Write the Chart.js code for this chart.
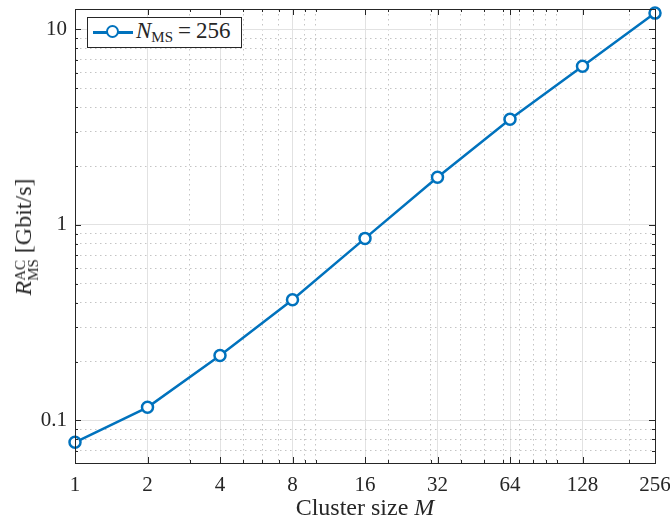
<!DOCTYPE html>
<html>
<head>
<meta charset="utf-8">
<script src="https://cdn.jsdelivr.net/npm/chart.js@4"></script>
<style>
  html, body { margin: 0; padding: 0; background: #fff; }
  #wrap { position: relative; width: 670px; height: 522px; font-family: "Liberation Serif", serif; color: #262626; }
  #chart { position: absolute; left: 0; top: 0; }
  .legend { position: absolute; left: 87px; top: 17px; width: 153px; height: 29px; border: 1px solid #262626; background: #fff; }
  .legend .ln { position: absolute; left: 5px; top: 13px; width: 40px; height: 2.5px; background: #0072bd; }
  .legend .mk { position: absolute; left: 18px; top: 7px; width: 9px; height: 9px; border: 2.5px solid #0072bd; border-radius: 50%; background: #fff; }
  .legend .tx { position: absolute; left: 48px; top: 0px; font-size: 23px; white-space: nowrap; }
  .legend .eq { margin: 0 5px; }
  sub { font-size: 15px; vertical-align: -4px; }
  .xlabel { position: absolute; left: 0; width: 730px; top: 494px; text-align: center; font-size: 24px; }
  .ylabel { position: absolute; left: 25px; top: 237px; transform: translate(-50%, -50%) rotate(-90deg); font-size: 24px; white-space: nowrap; }
  .stack { display: inline-block; vertical-align: -7px; line-height: 13px; font-size: 15px; text-align: left; margin-right: 6px; }
</style>
</head>
<body>
<div id="wrap">
  <canvas id="chart" width="670" height="522"></canvas>
  <div class="legend">
    <span class="ln"></span><span class="mk"></span>
    <span class="tx"><i>N</i><sub>MS</sub><span class="eq">=</span>256</span>
  </div>
  <div class="xlabel">Cluster size <i>M</i></div>
  <div class="ylabel"><i>R</i><span class="stack">AC<br>MS</span>[Gbit/s]</div>
</div>
<script>
// cluster size M and achievable rate (Gbit/s), N_MS = 256
const clusterSizes = [1, 2, 4, 8, 16, 32, 64, 128, 256];
const rateGbps = [0.0773, 0.1167, 0.2146, 0.414, 0.853, 1.753, 3.47, 6.47, 12.1];

const xTicks = [1, 2, 4, 8, 16, 32, 64, 128, 256];
const xMinor = [3, 5, 6, 7, 9, 10, 20, 30, 40, 50, 60, 70, 80, 90, 100, 200];
const yTicks = [0.1, 1, 10];
const yTickLabels = ['0.1', '1', '10'];
const yMinor = [0.07, 0.08, 0.09, 0.2, 0.3, 0.4, 0.5, 0.6, 0.7, 0.8, 0.9, 2, 3, 4, 5, 6, 7, 8, 9];

const xMin = 1, xMax = 256, yMin = 0.0606, yMax = 12.7;

const axisColor = '#262626';
const tickFont = { family: 'Liberation Serif', size: 21 };

// label overflow padding would shrink the plot area, drop it
function noPad(s) {
  s.paddingLeft = 0; s.paddingRight = 0; s.paddingTop = 0; s.paddingBottom = 0;
}

// box around the axes with inward ticks on all sides
const boxPlugin = {
  id: 'box',
  afterDraw(chart) {
    const { ctx, chartArea: a, scales } = chart;
    ctx.save();
    ctx.strokeStyle = axisColor;
    ctx.lineWidth = 1;
    ctx.beginPath();
    xTicks.forEach(v => {
      const px = Math.round(scales.x.getPixelForValue(v)) + 0.5;
      ctx.moveTo(px, a.bottom); ctx.lineTo(px, a.bottom - 6);
      ctx.moveTo(px, a.top); ctx.lineTo(px, a.top + 6);
    });
    xMinor.forEach(v => {
      const px = Math.round(scales.x.getPixelForValue(v)) + 0.5;
      ctx.moveTo(px, a.bottom); ctx.lineTo(px, a.bottom - 3);
      ctx.moveTo(px, a.top); ctx.lineTo(px, a.top + 3);
    });
    yTicks.forEach(v => {
      const py = Math.round(scales.y.getPixelForValue(v)) + 0.5;
      ctx.moveTo(a.left, py); ctx.lineTo(a.left + 6, py);
      ctx.moveTo(a.right, py); ctx.lineTo(a.right - 6, py);
    });
    yMinor.forEach(v => {
      const py = Math.round(scales.y.getPixelForValue(v)) + 0.5;
      ctx.moveTo(a.left, py); ctx.lineTo(a.left + 3, py);
      ctx.moveTo(a.right, py); ctx.lineTo(a.right - 3, py);
    });
    ctx.stroke();
    ctx.strokeRect(Math.round(a.left) + 0.5, Math.round(a.top) + 0.5,
                   Math.round(a.right - a.left), Math.round(a.bottom - a.top));
    ctx.restore();
  }
};

new Chart(document.getElementById('chart').getContext('2d'), {
  type: 'line',
  data: {
    datasets: [{
      label: 'N_MS = 256',
      data: clusterSizes.map((m, i) => ({ x: m, y: rateGbps[i] })),
      borderColor: '#0072bd',
      borderWidth: 2.5,
      pointRadius: 5.5,
      pointBorderWidth: 2.5,
      pointBackgroundColor: '#fff',
      pointBorderColor: '#0072bd',
      tension: 0,
      clip: false
    }]
  },
  options: {
    responsive: false,
    animation: false,
    layout: { padding: { top: 9, right: 15, left: 0, bottom: 0 } },
    plugins: { legend: { display: false }, tooltip: { enabled: false } },
    scales: {
      x: {
        type: 'logarithmic', position: 'bottom', min: xMin, max: xMax, bounds: 'data',
        afterBuildTicks: s => { s.ticks = xTicks.map(v => ({ value: v })); },
        afterFit: s => { s.height = 59; noPad(s); },
        ticks: { callback: v => String(v), font: tickFont, color: axisColor, padding: 10, maxRotation: 0, autoSkip: false },
        grid: { color: '#e2e2e2', lineWidth: 1, drawTicks: false },
        border: { display: false }
      },
      xMinor: {
        type: 'logarithmic', position: 'top', min: xMin, max: xMax, bounds: 'data',
        afterBuildTicks: s => { s.ticks = xMinor.map(v => ({ value: v })); },
        afterFit: s => { s.height = 0; noPad(s); },
        ticks: { display: false },
        grid: { color: '#c4c4c4', lineWidth: 1, drawTicks: false },
        border: { display: false, dash: [1.5, 3.5] }
      },
      y: {
        type: 'logarithmic', position: 'left', min: yMin, max: yMax, bounds: 'data',
        afterBuildTicks: s => { s.ticks = yTicks.map(v => ({ value: v })); },
        afterFit: s => { s.width = 75; noPad(s); },
        ticks: { callback: (v, i) => yTickLabels[i], font: tickFont, color: axisColor, padding: 8, autoSkip: false },
        grid: { color: '#e2e2e2', lineWidth: 1, drawTicks: false },
        border: { display: false }
      },
      yMinor: {
        type: 'logarithmic', position: 'right', min: yMin, max: yMax, bounds: 'data',
        afterBuildTicks: s => { s.ticks = yMinor.map(v => ({ value: v })); },
        afterFit: s => { s.width = 0; noPad(s); },
        ticks: { display: false },
        grid: { color: '#c4c4c4', lineWidth: 1, drawTicks: false },
        border: { display: false, dash: [1.5, 3.5] }
      }
    }
  },
  plugins: [boxPlugin]
});
</script>
</body>
</html>
